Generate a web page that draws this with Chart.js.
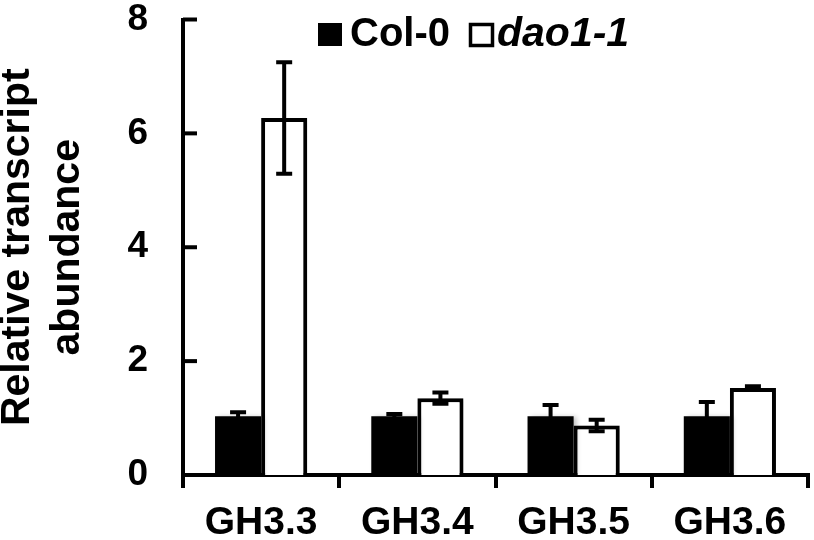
<!DOCTYPE html>
<html>
<head>
<meta charset="utf-8">
<script src="https://cdn.jsdelivr.net/npm/chart.js@4/dist/chart.umd.min.js"></script>
<style>
  html, body { margin: 0; padding: 0; background: #fff; }
  #wrap { width: 814px; height: 540px; }
</style>
</head>
<body>
<div id="wrap"><canvas id="chart" width="814" height="540"></canvas></div>
<script>
// data
const genes = ["GH3.3", "GH3.4", "GH3.5", "GH3.6"];
const colValues = [1.03, 1.03, 1.03, 1.03];
const colErrors = [0.07, 0.04, 0.2, 0.25];
const daoValues = [6.27, 1.35, 0.87, 1.53];
const daoErrors = [0.98, 0.1, 0.1, 0.03];
const yTicks = [0, 2, 4, 6, 8];

const FONT = "'Liberation Sans', Arial, sans-serif";

// error bars drawn on top of the bars
const errorBars = {
  id: "errorBars",
  afterDatasetsDraw(chart) {
    const ctx = chart.ctx;
    const y = chart.scales.y;
    ctx.save();
    ctx.strokeStyle = "#000";
    ctx.lineWidth = 4;
    chart.data.datasets.forEach((ds, i) => {
      const meta = chart.getDatasetMeta(i);
      meta.data.forEach((bar, j) => {
        const v = ds.data[j], e = ds.errors[j];
        const top = y.getPixelForValue(v + e);
        const bot = y.getPixelForValue(v - e);
        ctx.beginPath();
        ctx.moveTo(bar.x, top);
        ctx.lineTo(bar.x, bot);
        ctx.moveTo(bar.x - 8, top);
        ctx.lineTo(bar.x + 8, top);
        ctx.moveTo(bar.x - 8, bot);
        ctx.lineTo(bar.x + 8, bot);
        ctx.stroke();
      });
    });
    ctx.restore();
  }
};

// bar shadow, inward y ticks, legend with mixed font styles
const extras = {
  id: "extras",
  beforeDatasetsDraw(chart) {
    const ctx = chart.ctx;
    ctx.save();
    ctx.shadowColor = "rgba(0,0,0,0.25)";
    ctx.shadowBlur = 5;
    ctx.shadowOffsetX = 3;
    ctx.shadowOffsetY = 1;
  },
  afterDatasetsDraw(chart) {
    chart.ctx.restore();
  },
  afterDraw(chart) {
    const ctx = chart.ctx;
    const y = chart.scales.y;
    const left = chart.chartArea.left;
    ctx.save();
    ctx.strokeStyle = "#000";
    ctx.lineWidth = 4;
    yTicks.slice(1).forEach(t => {
      const py = y.getPixelForValue(t);
      ctx.beginPath();
      ctx.moveTo(left, py);
      ctx.lineTo(left + 14, py);
      ctx.stroke();
    });

    // legend
    const ly = 34;
    ctx.fillStyle = "#000";
    ctx.fillRect(318, ly - 11, 24, 23);
    ctx.textBaseline = "middle";
    ctx.textAlign = "left";
    ctx.font = "bold 40px " + FONT;
    ctx.fillText(chart.data.datasets[0].label, 350, ly + 1);
    ctx.lineWidth = 3.5;
    ctx.strokeRect(470.5, ly - 9.5, 22, 21);
    ctx.font = "italic bold 41px " + FONT;
    ctx.fillText(chart.data.datasets[1].label, 497, ly + 1);
    ctx.restore();
  }
};

new Chart(document.getElementById("chart"), {
  type: "bar",
  data: {
    labels: genes,
    datasets: [
      {
        label: "Col-0",
        data: colValues,
        errors: colErrors,
        backgroundColor: "#000",
        borderColor: "#000",
        borderWidth: 0,
      },
      {
        label: "dao1-1",
        data: daoValues,
        errors: daoErrors,
        backgroundColor: "#fff",
        borderColor: "#000",
        borderWidth: 4,
        borderSkipped: "start",
      },
    ],
  },
  options: {
    responsive: false,
    animation: false,
    events: [],
    layout: { padding: { top: 0, right: 6, left: 0, bottom: 0 } },
    datasets: { bar: { barPercentage: 1.0, categoryPercentage: 0.59 } },
    plugins: {
      legend: { display: false },
      tooltip: { enabled: false },
    },
    scales: {
      x: {
        grid: {
          display: true,
          drawOnChartArea: false,
          drawTicks: true,
          tickLength: 13,
          lineWidth: 4,
          color: "#000",
          offset: true,
        },
        border: { display: true, color: "#000", width: 4 },
        ticks: {
          color: "#000",
          padding: 12,
          font: { family: FONT, size: 39, weight: "bold" },
        },
        afterFit(scale) { scale.height = 65; },
      },
      y: {
        min: 0,
        max: 8,
        afterBuildTicks(scale) { scale.ticks = yTicks.map(v => ({ value: v })); },
        grid: { display: false, drawTicks: true, tickLength: 34 },
        border: { display: true, color: "#000", width: 4 },
        ticks: {
          color: "#000",
          padding: 1,
          font: { family: FONT, size: 37, weight: "bold", lineHeight: 1.0 },
        },
        title: {
          display: true,
          text: ["Relative transcript", "abundance"],
          color: "#000",
          font: { family: FONT, size: 41, weight: "bold", lineHeight: 1.22 },
          padding: { top: -7, bottom: 0 },
        },
        afterFit(scale) { scale.width = 183; },
      },
    },
  },
  plugins: [extras, errorBars],
});
</script>
</body>
</html>
